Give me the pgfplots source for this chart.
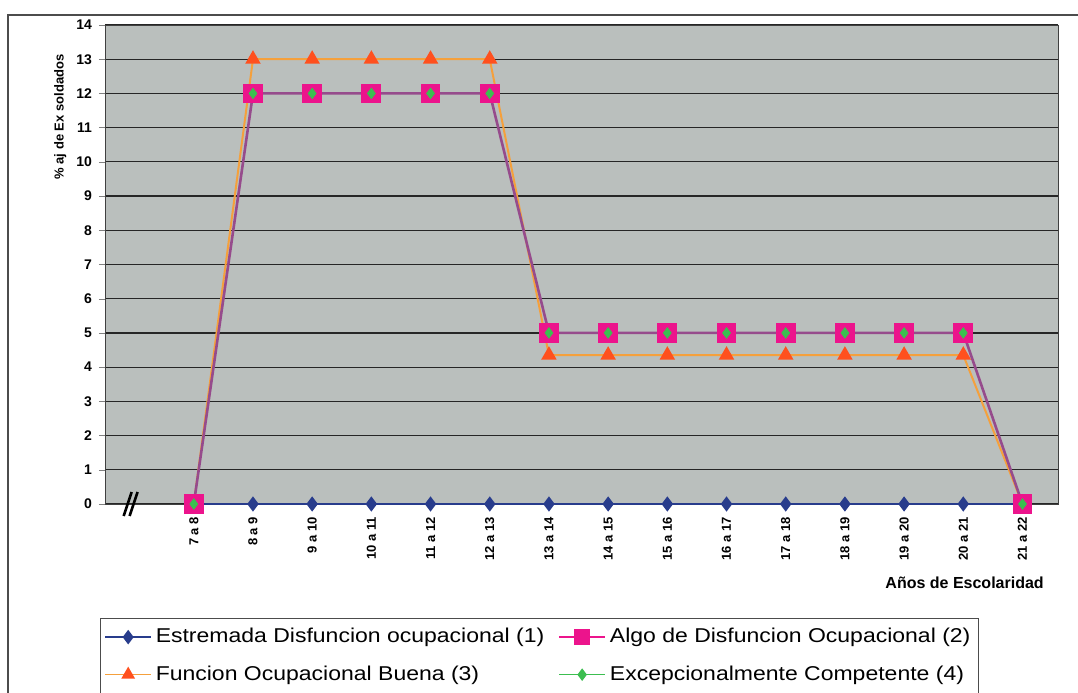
\documentclass[border=0pt]{standalone}
\usepackage{fontspec}
\setmainfont{Liberation Sans}
\newfontfamily\legfont[FakeStretch=1.15]{Liberation Sans}
\usepackage{pgfplots}
\usepackage{pgfplotstable}
\pgfplotsset{compat=1.18}
\definecolor{bg}{RGB}{186,191,189}
\definecolor{navy}{RGB}{40,60,140}
\definecolor{mag}{RGB}{236,20,140}
\definecolor{purp}{RGB}{150,75,140}
\definecolor{orl}{RGB}{245,160,60}
\definecolor{orm}{RGB}{255,80,30}
\definecolor{grn}{RGB}{60,190,80}
\pgfplotstableread{
x s1 s2 s3 s4
0 0 0 0 0
1 0 12 13 12
2 0 12 13 12
3 0 12 13 12
4 0 12 13 12
5 0 12 13 12
6 0 5 4.35 5
7 0 5 4.35 5
8 0 5 4.35 5
9 0 5 4.35 5
10 0 5 4.35 5
11 0 5 4.35 5
12 0 5 4.35 5
13 0 5 4.35 5
14 0 0 0 0
}\datatab
\begin{document}
\begin{tikzpicture}
\useasboundingbox (0pt,0pt) rectangle (539pt,346pt);
\draw[black!70, line width=0.6pt] (4pt,-5pt) -- (4pt,338.5pt) -- (545pt,338.5pt);
\begin{axis}[
  at={(52.5pt,94pt)}, anchor=south west,
  scale only axis, width=476.5pt, height=239.5pt,
  xmin=-1.5, xmax=14.6, ymin=0, ymax=14,
  ytick={0,...,14},
  xtick={0,...,14},
  xticklabels={7 a 8,8 a 9,9 a 10,10 a 11,11 a 12,12 a 13,13 a 14,14 a 15,15 a 16,16 a 17,17 a 18,18 a 19,19 a 20,20 a 21,21 a 22},
  x tick label style={rotate=90, anchor=east, font=\fontsize{6.5}{7}\selectfont\bfseries},
  y tick label style={font=\fontsize{7}{8}\selectfont\bfseries},
  /pgf/number format/assume math mode=true,
  tick align=outside, tick pos=left,
  major tick length=3pt,
  axis background/.style={fill=bg},
  axis line style={black!75},
  ymajorgrids, grid style={black!85, line width=0.6pt},
  clip=false,
  legend style={at={(-0.005,-0.238)}, anchor=north west, draw=black!70, fill=white,
    font=\legfont\fontsize{10}{12}\selectfont, row sep=6pt, inner xsep=2pt, inner ysep=3pt,
    /tikz/every even column/.append style={column sep=5pt}},
  legend columns=2, legend cell align=left,
  legend image code/.code={\draw[mark repeat=2,mark phase=2,#1] plot coordinates {(0cm,0cm)(0.4cm,0cm)(0.8cm,0cm)};},
]
\addlegendimage{navy, line width=0.8pt, mark=diamond*, mark size=3pt, mark options={fill=navy, draw=navy}}
\addlegendentry{Estremada Disfuncion ocupacional (1)}
\addlegendimage{mag, line width=1pt, mark=square*, mark size=3.5pt, mark options={fill=mag, draw=mag}}
\addlegendentry{Algo de Disfuncion Ocupacional (2)}
\addlegendimage{orl, line width=0.8pt, mark=triangle*, mark size=3.2pt, mark options={fill=orm, draw=orm}}
\addlegendentry{Funcion Ocupacional Buena (3)}
\addlegendimage{grn, line width=0.8pt, mark=diamond*, mark size=2.5pt, mark options={fill=grn, draw=grn}}
\addlegendentry{Excepcionalmente Competente (4)}

\addplot[forget plot, navy, line width=1pt, mark=diamond*, mark size=3pt, mark options={fill=navy, draw=navy}] table[x=x,y=s1] {\datatab};
\addplot[forget plot, orl, line width=1pt, mark=triangle*, mark size=3.5pt, mark options={fill=orm, draw=orm}] table[x=x,y=s3] {\datatab};
\addplot[forget plot, purp, line width=1.3pt, mark=square*, mark size=4.3pt, mark options={fill=mag, draw=mag}] table[x=x,y=s2] {\datatab};
\addplot[forget plot, only marks, mark=diamond*, mark size=2.6pt, mark options={fill=grn, draw=grn}] table[x=x,y=s4] {\datatab};

\draw[black, line width=1.3pt] (axis cs:-1.05,0) ++(-4pt,-6pt) -- ++(4pt,12pt);
\draw[black, line width=1.3pt] (axis cs:-0.95,0) ++(-4pt,-6pt) -- ++(4pt,12pt);

\node[font=\fontsize{8}{9}\selectfont\bfseries] at (axis description cs:0.902,-0.165) {Años de Escolaridad};
\node[font=\fontsize{6.5}{7}\selectfont\bfseries, rotate=90] at (axis description cs:-0.047,0.808) {\% aj de Ex soldados};
\end{axis}
\end{tikzpicture}
\end{document}
